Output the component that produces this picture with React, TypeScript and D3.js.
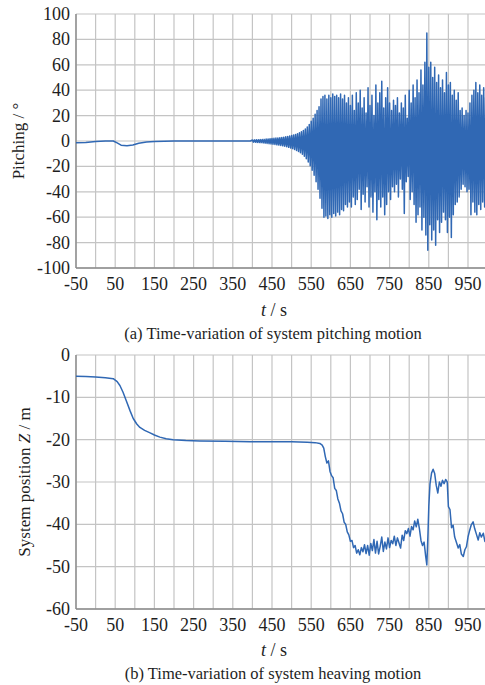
import { useEffect, useRef } from "react";
import * as d3 from "d3";

// pitching: slow part before the oscillation starts [t, deg]
const pitchSlow: [number, number][] = [
  [-50, -1.4], [-25, -1.2], [0, -0.4], [25, 0], [45, 0], [55, -1.5], [65, -3.3],
  [80, -3.8], [95, -3.2], [110, -1.8], [130, -0.8], [150, -0.3], [200, 0], [300, 0], [395, 0],
];

// pitching oscillation: one cycle every 5 s from t = 400
const pitchStart = 400;
const pitchStep = 5;
const pitchHi = [
  0.8, 0.9, 1.0, 1.0, 1.1, 1.2, 1.3, 1.5, 1.6, 1.8, 2.0, 2.1, 2.3, 2.4, 2.6, 2.8, 3.0, 3.3, 3.6, 3.9,
  4.3, 4.7, 5.2, 5.8, 6.4, 7.2, 8.2, 9.5, 11, 13, 15.5, 18, 21, 24, 27, 33, 35, 36, 33, 36,
  34, 37, 35, 36, 34, 37, 33, 36, 30, 34, 28, 36, 24, 38, 30, 40, 26, 34, 22, 42,
  28, 36, 20, 44, 30, 38, 47, 26, 34, 42, 30, 24, 32, 28, 34, 22, 30, 26, 36, 18,
  40, 30, 44, 34, 48, 38, 56, 44, 62, 85, 58, 62, 50, 58, 46, 52, 42, 48, 38, 54,
  44, 46, 36, 40, 32, 38, 24, 26, 20, 24, 22, 30, 36, 40, 46, 38, 44, 36, 42, 34,
];
const pitchLo = [
  -0.9, -1.0, -1.1, -1.2, -1.3, -1.5, -1.7, -1.9, -2.1, -2.3, -2.5, -2.7, -3.0, -3.2, -3.5, -3.8, -4.1, -4.5, -5.0, -5.5,
  -6.0, -6.7, -7.4, -8.3, -9.3, -10.5, -12, -14, -16.5, -19.5, -23, -27, -32, -38, -45, -53, -60, -59, -61, -58,
  -60, -57, -59, -56, -58, -54, -55, -50, -52, -48, -52, -44, -50, -46, -38, -54, -42, -48, -36, -52,
  -44, -56, -40, -62, -46, -52, -44, -58, -50, -40, -46, -36, -40, -34, -44, -30, -38, -57, -32, -28,
  -46, -40, -50, -64, -58, -52, -70, -60, -74, -86, -66, -78, -70, -82, -62, -72, -64, -56, -62, -72,
  -60, -76, -58, -50, -48, -44, -38, -34, -36, -40, -38, -58, -48, -56, -58, -50, -54, -48, -52, -46,
];

// heaving: system position Z [t, m]
const heave: [number, number][] = [
  [-50, -5.0], [-25, -5.1], [0, -5.2], [25, -5.4], [45, -5.6], [55, -6.3], [62, -7.2], [70, -8.8],
  [79, -11.0], [88, -13.2], [96, -15.0], [105, -16.3], [113, -17.1], [125, -17.8], [139, -18.4],
  [150, -18.9], [164, -19.4], [180, -19.8], [198, -20.0], [230, -20.2], [266, -20.3], [330, -20.4],
  [394, -20.5], [450, -20.5], [500, -20.5], [540, -20.6], [560, -20.7], [572, -20.9], [578, -21.3],
  [582, -22.0], [586, -24.0], [590, -25.5], [594, -25.0], [598, -27.5], [602, -28.5], [606, -29.0],
  [610, -31.5], [614, -32.0], [618, -34.0], [622, -35.0], [626, -36.8], [630, -37.5], [634, -39.5],
  [638, -40.0], [642, -41.8], [646, -42.5], [650, -44.0], [654, -43.8], [658, -45.5], [662, -45.0],
  [666, -46.8], [670, -46.0], [674, -47.2], [678, -45.5], [682, -46.5], [686, -44.8], [690, -46.9],
  [694, -45.0], [698, -47.3], [702, -44.5], [706, -46.2], [710, -43.6], [714, -46.8], [718, -44.0],
  [722, -47.0], [726, -45.2], [730, -43.0], [734, -46.4], [738, -44.2], [742, -45.8], [746, -43.2],
  [750, -45.5], [754, -43.8], [758, -44.6], [762, -42.8], [766, -45.0], [770, -43.2], [774, -44.4],
  [778, -45.6], [782, -42.6], [786, -43.8], [790, -41.5], [794, -42.2], [798, -41.0], [802, -42.8],
  [806, -40.5], [810, -41.3], [814, -39.2], [818, -40.6], [822, -38.8], [826, -41.0], [830, -43.8],
  [834, -45.0], [838, -44.2], [842, -47.5], [845, -49.6], [848, -42.0], [850, -35.8], [853, -30.5],
  [857, -27.9], [861, -27.0], [865, -28.0], [869, -30.8], [873, -32.6], [877, -30.0], [881, -31.0],
  [885, -29.6], [889, -30.4], [893, -29.4], [897, -30.0], [900, -35.8], [904, -36.5], [908, -40.8],
  [912, -40.2], [916, -43.0], [921, -44.4], [925, -45.6], [929, -44.8], [933, -47.0], [938, -47.6],
  [942, -46.0], [946, -45.3], [950, -43.0], [954, -41.5], [958, -40.2], [963, -39.4], [967, -41.0],
  [971, -42.2], [976, -43.7], [980, -42.0], [984, -43.0], [989, -42.1], [993, -44.0], [998, -44.5],
];

const xTicks = [-50, 50, 150, 250, 350, 450, 550, 650, 750, 850, 950];
const xGrid = d3.range(-50, 1001, 50);
const pitchTicks = [-100, -80, -60, -40, -20, 0, 20, 40, 60, 80, 100];
const heaveTicks = [-60, -50, -40, -30, -20, -10, 0];

const W = 485;
const H = 685;
const FONT = "Liberation Serif, DejaVu Serif, serif";
const BLUE = "#3068b4";

export default function App() {
  const ref = useRef<SVGSVGElement>(null);

  useEffect(() => {
    const svg = d3.select(ref.current);
    svg.selectAll("*").remove();

    const x = d3.scaleLinear().domain([-50, 1000]).range([76, 487.6]);

    // build pitching series: slow part then zigzag of cycles
    const pitch: [number, number][] = [...pitchSlow];
    pitchHi.forEach((h, i) => {
      const t = pitchStart + i * pitchStep;
      pitch.push([t, h]);
      pitch.push([t + pitchStep / 2, pitchLo[i]]);
    });

    function panel(
      y: d3.ScaleLinear<number, number>,
      ticks: number[],
      data: [number, number][],
      lw: number,
      yLabel: (t: d3.Selection<SVGTextElement, unknown, null, undefined>) => void,
      labelX: number,
      xLabelY: number,
      tLabelY: number,
      caption: string,
      captionY: number
    ) {
      const g = svg.append("g").attr("font-family", FONT).attr("fill", "#1e1e1e");
      const [y0, y1] = y.range();
      // grid
      g.selectAll(".vg")
        .data(xGrid)
        .enter()
        .append("line")
        .attr("x1", (d) => x(d))
        .attr("x2", (d) => x(d))
        .attr("y1", y1)
        .attr("y2", y0)
        .attr("stroke", "#c4c4c4")
        .attr("stroke-width", 1.2);
      g.selectAll(".hg")
        .data(ticks)
        .enter()
        .append("line")
        .attr("x1", x(-50))
        .attr("x2", W)
        .attr("y1", (d) => y(d))
        .attr("y2", (d) => y(d))
        .attr("stroke", "#c4c4c4")
        .attr("stroke-width", 1.2);
      // axes lines
      g.append("line")
        .attr("x1", x(-50)).attr("x2", x(-50))
        .attr("y1", y1).attr("y2", y0)
        .attr("stroke", "#8a8a8a").attr("stroke-width", 1.4);
      g.append("line")
        .attr("x1", x(-50)).attr("x2", W)
        .attr("y1", y0).attr("y2", y0)
        .attr("stroke", "#8a8a8a").attr("stroke-width", 1.4);

      // data line
      const line = d3
        .line<[number, number]>()
        .x((d) => x(d[0]))
        .y((d) => y(d[1]));
      g.append("path")
        .datum(data)
        .attr("d", line)
        .attr("fill", "none")
        .attr("stroke", BLUE)
        .attr("stroke-width", lw)
        .attr("stroke-linejoin", "round");

      // tick labels
      g.selectAll(".yl")
        .data(ticks)
        .enter()
        .append("text")
        .attr("x", 70)
        .attr("y", (d) => y(d) + 6)
        .attr("text-anchor", "end")
        .attr("font-size", 18)
        .text((d) => d);
      g.selectAll(".xl")
        .data(xTicks)
        .enter()
        .append("text")
        .attr("x", (d) => x(d))
        .attr("y", xLabelY)
        .attr("text-anchor", "middle")
        .attr("font-size", 18)
        .text((d) => d);

      // axis titles
      const tl = g
        .append("text")
        .attr("x", 274)
        .attr("y", tLabelY)
        .attr("text-anchor", "middle")
        .attr("font-size", 18);
      tl.append("tspan").attr("font-style", "italic").text("t");
      tl.append("tspan").text(" / s");

      const yl = g
        .append("text")
        .attr("transform", `translate(${labelX},${(y0 + y1) / 2}) rotate(-90)`)
        .attr("text-anchor", "middle")
        .attr("font-size", 17);
      yLabel(yl);

      g.append("text")
        .attr("x", 273)
        .attr("y", captionY)
        .attr("text-anchor", "middle")
        .attr("font-size", 16.5)
        .text(caption);
    }

    const yPitch = d3.scaleLinear().domain([-100, 100]).range([268, 14]);
    panel(
      yPitch,
      pitchTicks,
      pitch,
      1.5,
      (t) => t.text("Pitching / °"),
      24,
      290,
      316,
      "(a) Time-variation of system pitching motion",
      339
    );

    const yHeave = d3.scaleLinear().domain([-60, 0]).range([609, 355]);
    panel(
      yHeave,
      heaveTicks,
      heave,
      1.5,
      (t) => {
        t.append("tspan").text("System position ");
        t.append("tspan").attr("font-style", "italic").text("Z");
        t.append("tspan").text(" / m");
      },
      30,
      631,
      656,
      "(b) Time-variation of system heaving motion",
      679
    );
  }, []);

  return (
    <svg
      ref={ref}
      width={W}
      height={H}
      style={{ position: "absolute", left: 0, top: 0, background: "#fff", overflow: "hidden" }}
    />
  );
}
